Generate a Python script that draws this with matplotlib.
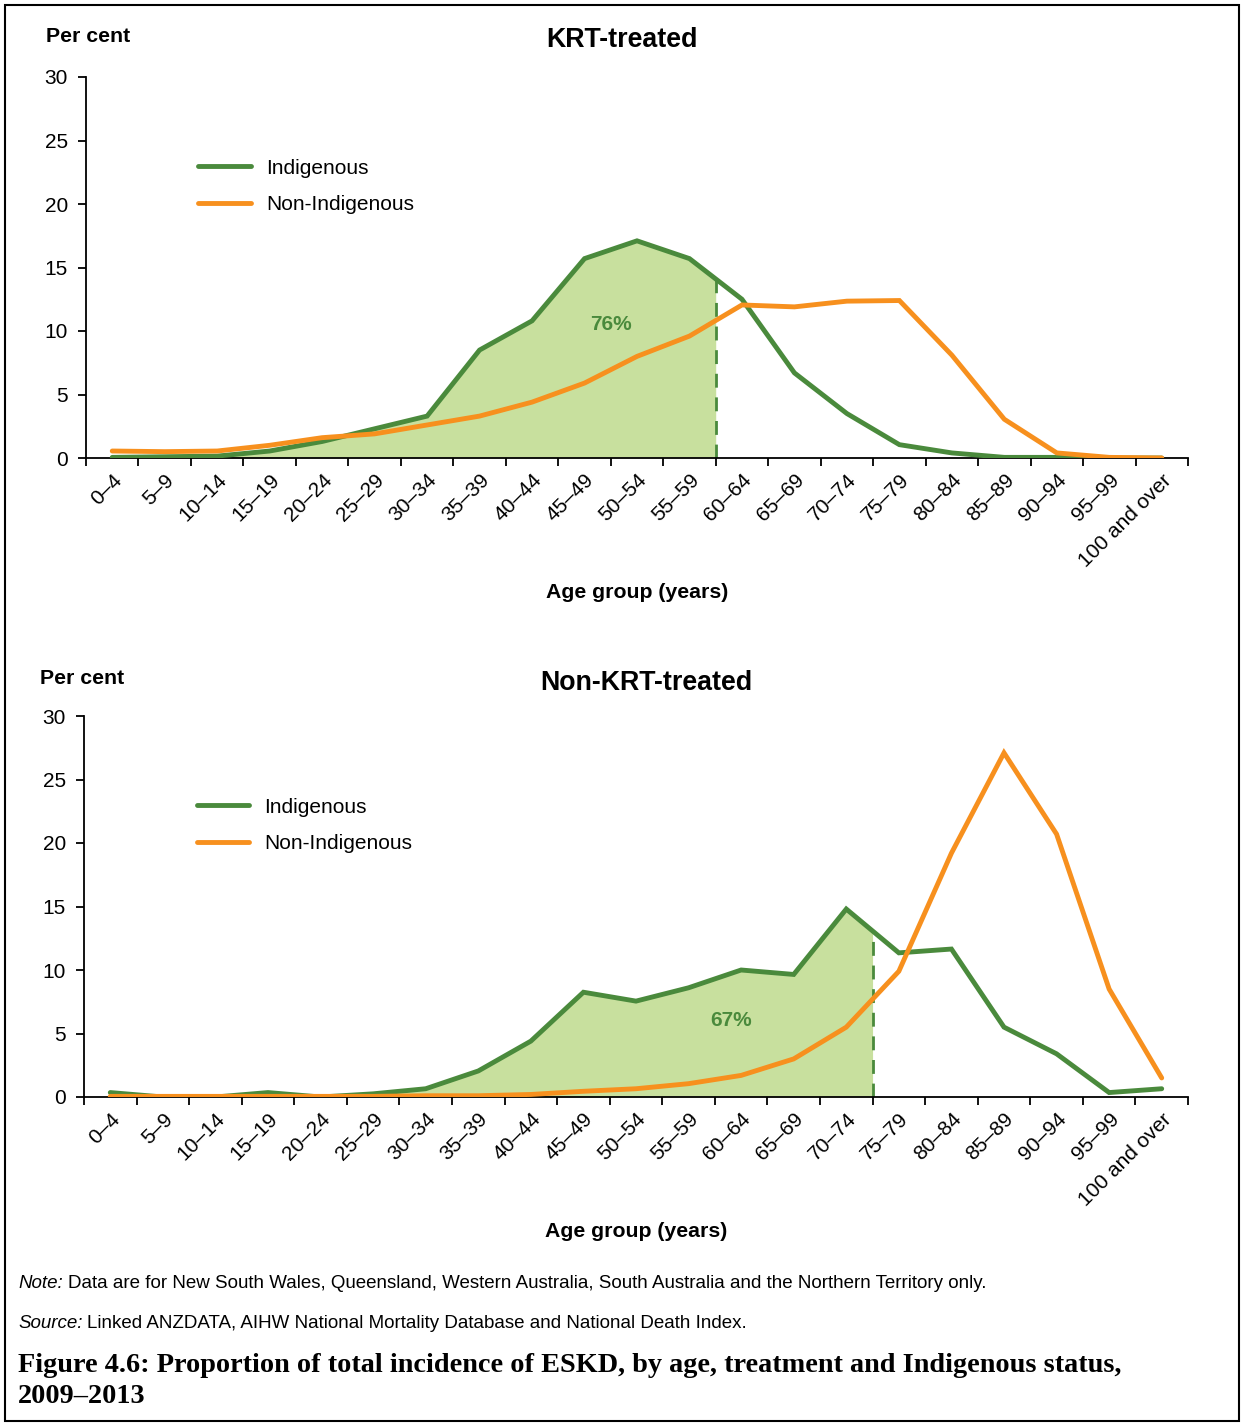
#!/usr/bin/env python

import numpy as np
import matplotlib.pyplot as plt
from matplotlib.patches import Rectangle

plt.rcParams['font.family'] = ['Liberation Sans', 'DejaVu Sans']

age_groups = ["0–4", "5–9", "10–14", "15–19", "20–24", "25–29", "30–34",
              "35–39", "40–44", "45–49", "50–54", "55–59", "60–64", "65–69",
              "70–74", "75–79", "80–84", "85–89", "90–94", "95–99",
              "100 and over"]

# KRT-treated, per cent of total incidence
krt_indig = [0.05, 0.1, 0.15, 0.55, 1.3, 2.3, 3.3, 8.5, 10.8, 15.7, 17.1,
             15.7, 12.5, 6.7, 3.5, 1.05, 0.4, 0.05, 0.05, 0.0, 0.0]
krt_nonindig = [0.55, 0.5, 0.55, 1.0, 1.6, 1.9, 2.6, 3.3, 4.4, 5.9, 8.0,
                9.6, 12.05, 11.9, 12.35, 12.4, 8.1, 3.05, 0.4, 0.05, 0.0]

# Non-KRT-treated, per cent of total incidence
nonkrt_indig = [0.35, 0.0, 0.0, 0.35, 0.0, 0.25, 0.65, 2.05, 4.4, 8.25, 7.55,
                8.6, 10.0, 9.65, 14.8, 11.35, 11.65, 5.5, 3.4, 0.35, 0.65]
nonkrt_nonindig = [0.05, 0.05, 0.05, 0.05, 0.05, 0.05, 0.1, 0.1, 0.2, 0.45,
                   0.65, 1.05, 1.7, 3.0, 5.5, 9.9, 19.2, 27.1, 20.7, 8.5, 1.5]

# cut-off (category boundary) and label for the shaded share
krt_cut, krt_share = 11.5, "76%"
nonkrt_cut, nonkrt_share = 14.5, "67%"

GREEN = "#4A8A3C"
ORANGE = "#F7901E"
FILL = "#C8E09E"

fig = plt.figure(figsize=(12.44, 14.26), dpi=100)


def draw_panel(ax, indig, nonindig, cut, share, share_xy, title, title_x, title_y):
    x = np.arange(len(age_groups))
    # shaded area under the Indigenous line up to the cut-off
    cut_val = np.interp(cut, x, indig)
    xs = np.append(x[x < cut], cut)
    ys = np.append(np.array(indig)[x < cut], cut_val)
    ax.fill_between(xs, 0, ys, color=FILL, lw=0, zorder=1)
    ax.plot([cut, cut], [0, cut_val], color=GREEN, lw=2, ls=(0, (5, 3.5)), zorder=2)

    ax.plot(x, indig, color=GREEN, lw=3.5, solid_capstyle='round',
            solid_joinstyle='miter', label="Indigenous", zorder=3)
    ax.plot(x, nonindig, color=ORANGE, lw=3.5, solid_capstyle='round',
            solid_joinstyle='miter', label="Non-Indigenous", zorder=4)

    ax.text(share_xy[0], share_xy[1], share, color=GREEN, fontsize=15,
            fontweight='bold', ha='center', va='center', zorder=5)

    ax.set_xlim(-0.5, len(age_groups) - 0.5)
    ax.set_ylim(0, 30)
    ax.set_yticks(range(0, 31, 5))
    ax.set_xticks(np.arange(len(age_groups) + 1) - 0.5)
    ax.set_xticklabels([])
    ax.set_xticks(x, minor=True)
    ax.set_xticklabels(age_groups, minor=True, rotation=45, ha='right',
                       rotation_mode='anchor', fontsize=15)
    ax.tick_params(axis='x', which='minor', length=0, pad=9)
    ax.tick_params(axis='x', which='major', length=6, width=1.3)
    ax.tick_params(axis='y', length=6, width=1.3, labelsize=15, pad=7)
    for s in ['top', 'right']:
        ax.spines[s].set_visible(False)
    for s in ['left', 'bottom']:
        ax.spines[s].set_linewidth(1.3)

    ax.set_xlabel("Age group (years)", fontsize=15.3, fontweight='bold',
                  labelpad=9)
    ax.legend(loc='upper left', bbox_to_anchor=(0.085, 0.835), frameon=False,
              fontsize=15, handlelength=2.5, handletextpad=0.75,
              labelspacing=0.85)
    fig.text(title_x, title_y, title, fontsize=19.3,
             fontweight='bold', ha='center', va='center')


ax1 = fig.add_axes([86 / 1244, 1 - 458 / 1426, 1102 / 1244, 381 / 1426])
draw_panel(ax1, krt_indig, krt_nonindig, krt_cut, krt_share, (9.5, 10.5),
           "KRT-treated", 622 / 1244, 1 - 40 / 1426)
fig.text(46 / 1244, 1 - 37 / 1426, "Per cent", fontsize=15.3,
         fontweight='bold', ha='left', va='center')

ax2 = fig.add_axes([84 / 1244, 1 - 1097 / 1426, 1104 / 1244, 381 / 1426])
draw_panel(ax2, nonkrt_indig, nonkrt_nonindig, nonkrt_cut, nonkrt_share,
           (11.8, 6.0), "Non-KRT-treated", 646 / 1244, 1 - 683 / 1426)
fig.text(40 / 1244, 1 - 678 / 1426, "Per cent", fontsize=15.3,
         fontweight='bold', ha='left', va='center')

# notes
fig.text(18 / 1244, 1 - 1283 / 1426, "Note:", fontsize=13.5, style='italic',
         ha='left', va='center')
fig.text(68 / 1244, 1 - 1283 / 1426,
         "Data are for New South Wales, Queensland, Western Australia, "
         "South Australia and the Northern Territory only.",
         fontsize=13.5, ha='left', va='center')
fig.text(18 / 1244, 1 - 1323 / 1426, "Source:", fontsize=13.5, style='italic',
         ha='left', va='center')
fig.text(87 / 1244, 1 - 1323 / 1426,
         "Linked ANZDATA, AIHW National Mortality Database and National Death Index.",
         fontsize=13.5, ha='left', va='center')
fig.text(18 / 1244, 1 - 1381 / 1426,
         "Figure 4.6: Proportion of total incidence of ESKD, by age, treatment "
         "and Indigenous status,\n2009–2013",
         fontsize=20.3, fontweight='bold', family=['Liberation Serif', 'DejaVu Serif'],
         ha='left', va='center', linespacing=1.28)

# outer frame
fig.patches.append(Rectangle((5 / 1244, 5 / 1426), 1234 / 1244, 1416 / 1426,
                             transform=fig.transFigure, fill=False,
                             edgecolor='black', lw=1.5))

plt.savefig("out.png", dpi=100)
plt.close()
